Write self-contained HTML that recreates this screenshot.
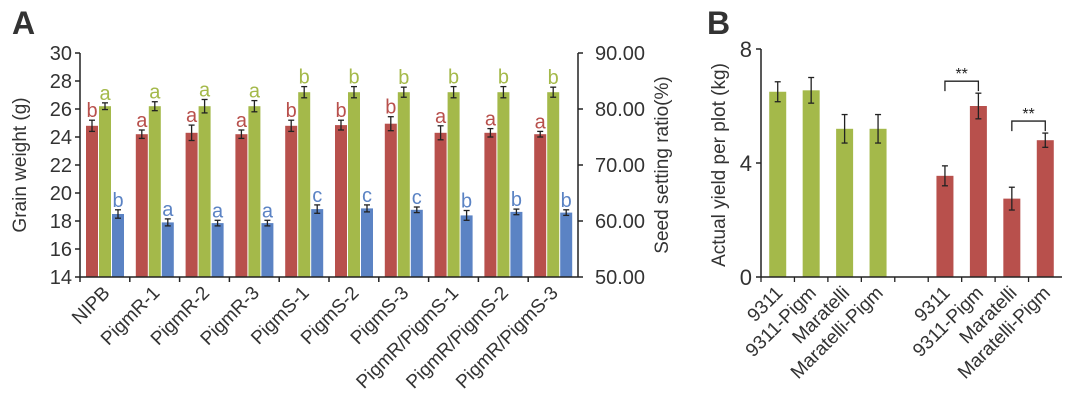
<!DOCTYPE html>
<html><head><meta charset="utf-8"><style>
body{margin:0;background:#fff;width:1080px;height:410px;overflow:hidden}
svg{font-family:"Liberation Sans",sans-serif}
</style></head><body>
<svg id="c" width="1080" height="410"></svg>
<script>
const catsA=["NIPB","PigmR-1","PigmR-2","PigmR-3","PigmS-1","PigmS-2","PigmS-3","PigmR/PigmS-1","PigmR/PigmS-2","PigmR/PigmS-3"];
const redVals=[24.8,24.2,24.3,24.2,24.8,24.85,24.95,24.3,24.3,24.2];
const redErr=[0.4,0.3,0.55,0.3,0.4,0.35,0.5,0.5,0.3,0.2];
const blueVals=[18.5,17.9,17.85,17.85,18.85,18.9,18.8,18.4,18.65,18.6];
const blueErr=[0.3,0.25,0.2,0.2,0.3,0.25,0.2,0.35,0.2,0.2];
const greenVals=[80.5,80.5,80.5,80.5,83,83,83,83,83,83];
const greenErr=[0.6,0.8,1.2,1.0,1.0,1.0,0.9,1.0,1.0,0.9];
const redLet=["b","a","a","a","b","b","b","a","a","a"];
const greenLet=["a","a","a","a","b","b","b","b","b","b"];
const blueLet=["b","a","a","a","c","c","c","b","b","b"];
const leftTicks=[14,16,18,20,22,24,26,28,30];
const rightTicks=[50,60,70,80,90];
const catsB=["9311","9311-Pigm","Maratelli","Maratelli-Pigm","","9311","9311-Pigm","Maratelli","Maratelli-Pigm"];
const yieldVals=[6.5,6.55,5.2,5.2,null,3.55,6.0,2.75,4.8];
const yieldErr=[0.35,0.45,0.5,0.5,null,0.35,0.45,0.4,0.25];
const yieldColor=["g","g","g","g",null,"r","r","r","r"];
const bTicks=[0,4,8];

const R="#b8504c",G="#a4b94a",B="#5b83c4";
const svg=document.getElementById('c');const NS="http://www.w3.org/2000/svg";
function el(t,a,txt){const e=document.createElementNS(NS,t);for(const k in a)e.setAttribute(k,a[k]);if(txt!==undefined)e.textContent=txt;svg.appendChild(e);return e;}
const ax0=80,ax1=578,ayT=53,ayB=277;
const yL=v=>ayB-(v-14)/(30-14)*(ayB-ayT);
const yR=v=>ayB-(v-50)/(90-50)*(ayB-ayT);
const slot=(ax1-ax0)/catsA.length;
let t=el('text',{x:12,y:34,'font-size':32,'font-weight':'bold',fill:'#333'},'A');

function errbar(x,top,bot){const g=[['line',{x1:x,x2:x,y1:top,y2:bot}],['line',{x1:x-3,x2:x+3,y1:top,y2:top}],['line',{x1:x-3,x2:x+3,y1:bot,y2:bot}]];g.forEach(([n,a])=>{a.stroke='#222';a['stroke-width']=1.3;const e=el(n,a);});}
catsA.forEach((c,i)=>{
 const x0=ax0+i*slot+6;
 const sers=[[redVals[i],redErr[i],R,yL,redLet[i],'red'],[greenVals[i],greenErr[i],G,yR,greenLet[i],'green'],[blueVals[i],blueErr[i],B,yL,blueLet[i],'blue']];
 sers.forEach((s,j)=>{
  const bx=x0+j*13,yy=s[3](s[0]);
  const r=el('rect',{x:bx,y:yy,width:12,height:ayB-yy,fill:s[2]});
  
  const et=s[3](s[0]+s[1]),eb=s[3](s[0]-s[1]);errbar(bx+6,et,eb);
  const l=el('text',{x:bx+6,y:et-3,'font-size':20,'text-anchor':'middle',fill:s[2]},s[4]);
  
 });
 const tk=el('line',{x1:ax0+i*slot,x2:ax0+i*slot,y1:ayB,y2:ayB+5,stroke:'#222','stroke-width':1.5});
 
 const cx=ax0+i*slot+slot/2+6;
 const lb=el('text',{x:cx,y:ayB+17,'font-size':19,'text-anchor':'end',fill:'#333',transform:`rotate(-45 ${cx} ${ayB+17})`},c);
 
});
let ln=el('line',{x1:ax0,x2:ax0,y1:ayT,y2:ayB,stroke:'#222','stroke-width':1.5});
ln=el('line',{x1:ax1,x2:ax1,y1:ayT,y2:ayB,stroke:'#222','stroke-width':1.5});
ln=el('line',{x1:ax0,x2:ax1,y1:ayB,y2:ayB,stroke:'#222','stroke-width':1.5});
leftTicks.forEach(v=>{const y=yL(v);const a=el('line',{x1:ax0-5,x2:ax0,y1:y,y2:y,stroke:'#222','stroke-width':1.5});
 const b=el('text',{x:ax0-8,y:y+7,'font-size':20,'text-anchor':'end',fill:'#333'},v);});
rightTicks.forEach(v=>{const y=yR(v);const a=el('line',{x1:ax1,x2:ax1+5,y1:y,y2:y,stroke:'#222','stroke-width':1.5});
 const b=el('text',{x:ax1+17,y:y+7,'font-size':20,fill:'#333'},v.toFixed(2));});
t=el('text',{x:26,y:165,'font-size':19,'text-anchor':'middle',fill:'#333',transform:'rotate(-90 26 165)'},'Grain weight (g)');
t=el('text',{x:668,y:165,'font-size':19,'text-anchor':'middle',fill:'#333',transform:'rotate(-90 668 165)'},'Seed setting ratio(%)');
const bx0=761,bx1=1062,byT=49,byB=277;
const yB=v=>byB-v/8*(byB-byT);
const bslot=(bx1-bx0)/catsB.length;
t=el('text',{x:707,y:34,'font-size':32,'font-weight':'bold',fill:'#333'},'B');
catsB.forEach((c,i)=>{
 const cx=bx0+i*bslot+bslot/2;
 const tk=el('line',{x1:bx0+i*bslot,x2:bx0+i*bslot,y1:byB,y2:byB+5,stroke:'#222','stroke-width':1.3});
 if(yieldVals[i]!==null){
  const yy=yB(yieldVals[i]);
  const r=el('rect',{x:cx-8.5,y:yy,width:17,height:byB-yy,fill:yieldColor[i]=='g'?G:R});
  
  errbar(cx,yB(yieldVals[i]+yieldErr[i]),yB(yieldVals[i]-yieldErr[i]));
 }
 if(c){const lb=el('text',{x:cx+6,y:byB+17,'font-size':19,'text-anchor':'end',fill:'#333',transform:`rotate(-45 ${cx+6} ${byB+17})`},c);}
});
ln=el('line',{x1:bx0,x2:bx0,y1:byT,y2:byB,stroke:'#222','stroke-width':1.5});
ln=el('line',{x1:bx0,x2:bx1,y1:byB,y2:byB,stroke:'#222','stroke-width':1.5});
bTicks.forEach(v=>{const y=yB(v);const a=el('line',{x1:bx0-5,x2:bx0,y1:y,y2:y,stroke:'#222','stroke-width':1.5});
 const b=el('text',{x:bx0-9,y:y+8,'font-size':22,'text-anchor':'end',fill:'#333'},v);});
t=el('text',{x:725,y:165,'font-size':19,'text-anchor':'middle',fill:'#333',transform:'rotate(-90 725 165)'},'Actual yield per plot (kg)');
[[5,6],[7,8]].forEach(([a,b])=>{
 const xa=bx0+a*bslot+bslot/2,xb=bx0+b*bslot+bslot/2;
 const top=Math.min(yB(yieldVals[a]+yieldErr[a]),yB(yieldVals[b]+yieldErr[b]))-12;
 const p=el('path',{d:`M${xa} ${top+10}V${top}H${xb}V${top+10}`,fill:'none',stroke:'#222','stroke-width':1.3});
 
 const s=el('text',{x:(xa+xb)/2,y:top-2,'font-size':16,'text-anchor':'middle',fill:'#222'},'**');
 
});
</script>
</body></html>
